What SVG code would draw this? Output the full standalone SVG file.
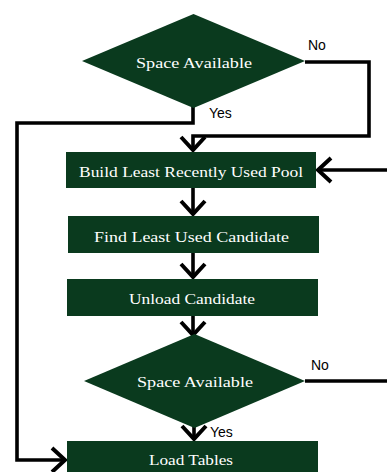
<svg xmlns="http://www.w3.org/2000/svg" width="387" height="472" viewBox="0 0 387 472">
<style>
.shape{fill:#0a3a1e;}
.lbl{font-family:"Liberation Serif","Times New Roman",serif;font-size:14px;fill:#ffffff;text-anchor:middle;}
.yn{font-family:"Liberation Sans",Arial,sans-serif;font-size:14px;fill:#000000;}
.conn{fill:none;stroke:#000000;stroke-width:3.6;stroke-linejoin:miter;}
</style>
<defs>
<marker id="chev" markerUnits="userSpaceOnUse" viewBox="-20 -20 40 40" markerWidth="40" markerHeight="40" refX="0" refY="0" orient="auto" overflow="visible">
<path d="M-13,-12 L0,0 L-13,12" fill="none" stroke="#000000" stroke-width="4"/>
</marker>
</defs>
<rect width="387" height="472" fill="#ffffff"/>
<g id="connectors">
<path class="conn" d="M193,106 V123 H17 V460 H65" marker-end="url(#chev)"/>
<path class="conn" d="M305,62 H369 V136 H193 V150" marker-end="url(#chev)"/>
<path class="conn" d="M387,170 H318" marker-end="url(#chev)"/>
<path class="conn" d="M193,188 V214" marker-end="url(#chev)"/>
<path class="conn" d="M193,253 V277" marker-end="url(#chev)"/>
<path class="conn" d="M193,316 V335" marker-end="url(#chev)"/>
<path class="conn" d="M305,381 H387"/>
<path class="conn" d="M194,427 V439" marker-end="url(#chev)"/>
</g>
<g id="decision1">
<polygon class="shape" points="193.5,14 305,61 193.5,108 82,61"/>
<text class="lbl" x="194" y="68" textLength="116" lengthAdjust="spacingAndGlyphs">Space Available</text>
</g>
<g id="label-no1"><text class="yn" x="308" y="50">No</text></g>
<g id="label-yes1"><text class="yn" x="209" y="118">Yes</text></g>
<g id="build-pool">
<rect class="shape" x="66" y="152" width="250" height="36"/>
<text class="lbl" x="191" y="177" textLength="224" lengthAdjust="spacingAndGlyphs">Build Least Recently Used Pool</text>
</g>
<g id="find-candidate">
<rect class="shape" x="68" y="216" width="251" height="37"/>
<text class="lbl" x="191.5" y="242" textLength="195" lengthAdjust="spacingAndGlyphs">Find Least Used Candidate</text>
</g>
<g id="unload-candidate">
<rect class="shape" x="67" y="279" width="251" height="37"/>
<text class="lbl" x="192" y="304" textLength="126" lengthAdjust="spacingAndGlyphs">Unload Candidate</text>
</g>
<g id="decision2">
<polygon class="shape" points="194.5,334 305,381 194.5,428 84,381"/>
<text class="lbl" x="195" y="387" textLength="116" lengthAdjust="spacingAndGlyphs">Space Available</text>
</g>
<g id="label-no2"><text class="yn" x="311" y="370">No</text></g>
<g id="label-yes2"><text class="yn" x="210" y="437">Yes</text></g>
<g id="load-tables">
<rect class="shape" x="67" y="441" width="251" height="31"/>
<text class="lbl" x="191" y="465" textLength="84" lengthAdjust="spacingAndGlyphs">Load Tables</text>
</g>
</svg>
